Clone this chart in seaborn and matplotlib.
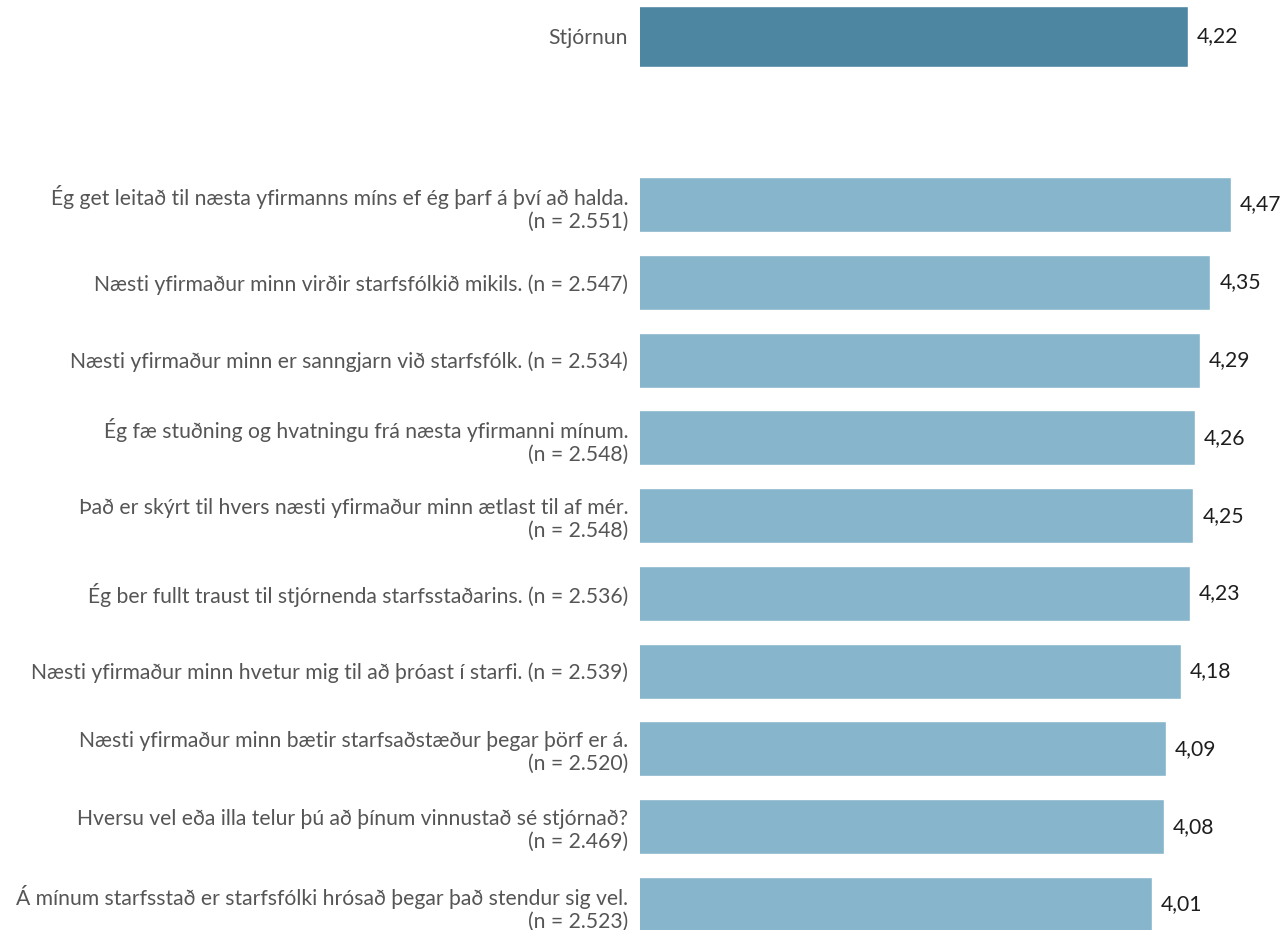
import matplotlib
matplotlib.use("Agg")
import matplotlib.pyplot as plt
import seaborn as sns
import pandas as pd

summary_label = ["Stjórnun"]
summary_value = [4.22]

item_labels = [
    "Ég get leitað til næsta yfirmanns míns ef ég þarf á því að halda.\n(n = 2.551)",
    "Næsti yfirmaður minn virðir starfsfólkið mikils. (n = 2.547)",
    "Næsti yfirmaður minn er sanngjarn við starfsfólk. (n = 2.534)",
    "Ég fæ stuðning og hvatningu frá næsta yfirmanni mínum.\n(n = 2.548)",
    "Það er skýrt til hvers næsti yfirmaður minn ætlast til af mér.\n(n = 2.548)",
    "Ég ber fullt traust til stjórnenda starfsstaðarins. (n = 2.536)",
    "Næsti yfirmaður minn hvetur mig til að þróast í starfi. (n = 2.539)",
    "Næsti yfirmaður minn bætir starfsaðstæður þegar þörf er á.\n(n = 2.520)",
    "Hversu vel eða illa telur þú að þínum vinnustað sé stjórnað?\n(n = 2.469)",
    "Á mínum starfsstað er starfsfólki hrósað þegar það stendur sig vel.\n(n = 2.523)",
]
item_values = [4.47, 4.35, 4.29, 4.26, 4.25, 4.23, 4.18, 4.09, 4.08, 4.01]

sns.set_theme(style="white")
plt.rcParams["font.family"] = ["Lato", "DejaVu Sans"]

W, H = 1281, 930
fig = plt.figure(figsize=(W / 100, H / 100), dpi=100)

x_left_px = 640
px_per_unit = 171.7
x_one_px = 635.2
xmin = 1.0 + (x_left_px - x_one_px) / px_per_unit
xmax = xmin + (W - x_left_px) / px_per_unit

label_color = "#555555"
value_color = "#1e1e1e"
fs = 15.2

def fmt(v):
    return f"{v:.2f}".replace(".", ",")

# top axes (summary)
top_h = 76.0
top_center = 36.5
ax1 = fig.add_axes([x_left_px / W, 1 - (top_center + top_h / 2) / H,
                    (W - x_left_px) / W, top_h / H])
df1 = pd.DataFrame({"label": summary_label, "value": summary_value})
sns.barplot(data=df1, x="value", y="label", orient="h", color="#4d86a1",
            saturation=1, width=61 / top_h, ax=ax1)

# bottom axes (items)
spacing = 77.78
first_center = 204.5
n = len(item_values)
bot_top = first_center - spacing / 2
bot_h = spacing * n
ax2 = fig.add_axes([x_left_px / W, 1 - (bot_top + bot_h) / H,
                    (W - x_left_px) / W, bot_h / H])
df2 = pd.DataFrame({"label": item_labels, "value": item_values})
sns.barplot(data=df2, x="value", y="label", orient="h", color="#87b5cc",
            saturation=1, width=55 / spacing, ax=ax2)

for ax in (ax1, ax2):
    ax.set_xlim(xmin, xmax)
    ax.set_xlabel("")
    ax.set_ylabel("")
    ax.set_xticks([])
    sns.despine(ax=ax, left=True, bottom=True)
    ax.tick_params(axis="y", length=0, pad=8.5, labelsize=fs, labelcolor=label_color)
    for lab in ax.get_yticklabels():
        lab.set_horizontalalignment("right")
        lab.set_multialignment("right")
        lab.set_linespacing(1.18)
    for cont in ax.containers:
        ax.bar_label(cont, labels=[fmt(v) for v in cont.datavalues], padding=6.5,
                     fontsize=fs, color=value_color)
    ax.patch.set_alpha(0)

fig.savefig("out.png", dpi=100)
